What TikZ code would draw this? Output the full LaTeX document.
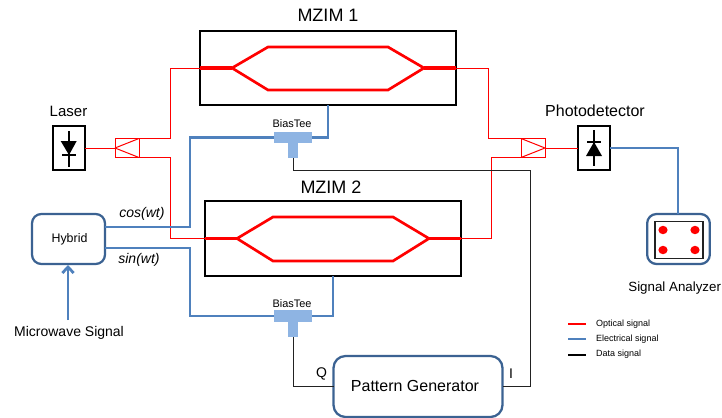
\documentclass[tikz,border=0pt]{standalone}
\usepackage{fontspec}
\setmainfont{Liberation Sans}
\usetikzlibrary{arrows.meta}
\definecolor{optred}{HTML}{FF0000}
\definecolor{eblue}{HTML}{4F81BD}
\definecolor{dblue}{HTML}{3B6292}
\definecolor{teeblue}{HTML}{8EB4E3}
\definecolor{datagray}{HTML}{222222}
\tikzset{
  x=0.75pt,y=-0.75pt,
  boxnode/.style={rectangle,inner sep=0pt,outer sep=0pt},
  mzimbox/.style={boxnode,draw=black,line width=1.6pt,minimum width=192pt,minimum height=56pt},
  diodebox/.style={boxnode,draw=black,fill=white,line width=1.5pt,minimum width=24pt,minimum height=33.5pt},
  roundblue/.style={boxnode,draw=dblue,line width=1.7pt,rounded corners=7pt},
  splitbox/.style={boxnode,draw=optred,line width=0.6pt,minimum width=18pt,minimum height=14.25pt},
  teebar/.style={boxnode,fill=teeblue,minimum width=28.5pt,minimum height=8.5pt},
  teestem/.style={boxnode,fill=teeblue,minimum width=7.5pt,minimum height=11.5pt},
  optthin/.style={draw=optred,line width=0.75pt},
  optarm/.style={draw=optred,line width=2pt,line join=miter},
  optstem/.style={draw=optred,line width=2.6pt},
  elec/.style={draw=eblue,line width=2.1pt},
  datal/.style={draw=datagray,line width=0.75pt},
  txt/.style={inner sep=0pt,outer sep=0pt,text=black,anchor=center},
  solidk/.style={draw=black,line width=1.5pt}
}
\begin{document}
\begin{tikzpicture}
\useasboundingbox (0,0) rectangle (722,418);
\clip (0,0) rectangle (722,418);

% boxes
\node[mzimbox] (mz1) at (328,68) {};
\node[mzimbox] (mz2) at (333,238.5) {};
\node[diodebox] (laser) at (68.7,148) {};
\node[diodebox] (pd) at (594,148) {};
\node[splitbox] (sp1) at (127,148) {};
\node[splitbox] (sp2) at (533,148) {};
\node[roundblue,minimum width=54.75pt,minimum height=37.5pt] (hy) at (68.5,239) {};
\node[roundblue,minimum width=47pt,minimum height=37.5pt] (sa) at (678.5,239) {};
\node[roundblue,rounded corners=9pt,minimum width=126.75pt,minimum height=45.75pt] (pg) at (418,386.5) {};
\node[boxnode,draw=datagray,line width=0.8pt,minimum width=36pt,minimum height=27.5pt] (sai) at (679,240) {};

% routing points
\coordinate (ra) at (170.5,100);
\coordinate (rb) at (170.5,200);
\coordinate (rc) at (488.5,100);
\coordinate (rd) at (491.5,200);
\coordinate (hc) at (105,227);
\coordinate (hs) at (105,248);
\coordinate (va) at (190,180);
\coordinate (vb) at (190,280);
\coordinate (dt) at (530.5,170.5);
\coordinate (mwin) at (68,320);
\coordinate (hyb) at (68,265);
\coordinate (sat) at (678,214);

% optical
\draw[optthin] (laser.east) -- (sp1.west);
\draw[optthin] (sp1.west) -- (sp1.north east);
\draw[optthin] (sp1.west) -- (sp1.south east);
\draw[optthin] (sp2.north west) -- (sp2.east) -- (sp2.south west);
\draw[optthin] (sp2.east) -- (pd.west);
\draw[optthin] (sp1.north east) -| (ra) |- (mz1.west);
\draw[optthin] (sp1.south east) -| (rb) |- (mz2.west);
\draw[optthin] (sp2.north west) -| (rc) |- (mz1.east);
\draw[optthin] (sp2.south west) -| (rd) |- (mz2.east);

% MZIM 1 arms
\coordinate (m1l) at (232,68);
\coordinate (m1r) at (424,68);
\draw[optstem] (mz1.west) -- (m1l);
\draw[optstem] (m1r) -- (mz1.east);
\draw[optarm] (m1l) -- (268,47) -- (388,47) -- (m1r) -- (388,90) -- (268,90) -- cycle;
% MZIM 2 arms
\coordinate (m2l) at (237,238.5);
\coordinate (m2r) at (429,238.5);
\draw[optstem] (mz2.west) -- (m2l);
\draw[optstem] (m2r) -- (mz2.east);
\draw[optarm] (m2l) -- (273,217) -- (393,217) -- (m2r) -- (393,261) -- (273,261) -- cycle;

% bias tees sit on the electrical lines
\node[teebar] (bt1) at (293,137.5) {};
\node[teestem] (bt1s) at (293,150.5) {};
\node[teebar] (bt2) at (293,316) {};
\node[teestem] (bt2s) at (293,329.5) {};

% electrical
\draw[elec] (hc) -| (va) |- (bt1.west);
\draw[elec] (bt1.east) -| (mz1.south);
\draw[elec] (hs) -| (vb) |- (bt2.west);
\draw[elec] (bt2.east) -| (mz2.south);
\draw[elec] (pd.east) -| (sat);
\draw[elec,-{Straight Barb[length=4.5pt,width=8.5pt]}] (mwin) -- (hyb);

% data
\draw[datal] (bt1s.south) |- (dt) |- (pg.east);
\draw[datal] (bt2s.south) |- (pg.west);

% laser diode
\draw[solidk] (69,131) -- (69,167);
\draw[solidk] (62,154.5) -- (76,154.5);
\fill[black] (60.7,141) -- (76.7,141) -- (69,155) -- cycle;
% photodiode
\draw[solidk] (594,130) -- (594,166);
\draw[solidk] (587,141.7) -- (601,141.7);
\fill[black] (586,156) -- (602,156) -- (594,142) -- cycle;

% analyzer dots
\foreach \dx/\dy in {663/230,695/230,663/250,695/250}
  \fill[optred] (\dx,\dy) ellipse[x radius=4.6,y radius=4.2];

% labels
\node[txt,font=\fontsize{13.5pt}{15pt}\selectfont] (t1) at (328,15) {MZIM 1};
\node[txt,font=\fontsize{13.5pt}{15pt}\selectfont] (t2) at (331,187) {MZIM 2};
\node[txt,font=\fontsize{11.25pt}{13pt}\selectfont] (t3) at (68.5,111) {Laser};
\node[txt,font=\fontsize{12pt}{14pt}\selectfont] (t4) at (595,111) {Photodetector};
\node[txt,font=\fontsize{9.3pt}{11pt}\selectfont] (t5) at (69.5,239) {Hybrid};
\node[txt,font=\fontsize{10.5pt}{12pt}\selectfont\itshape] (t6) at (142,214) {cos(wt)};
\node[txt,font=\fontsize{10.5pt}{12pt}\selectfont\itshape] (t7) at (139,260) {sin(wt)};
\node[txt,font=\fontsize{10.5pt}{12pt}\selectfont] (t8) at (69,333) {Microwave Signal};
\node[txt,font=\fontsize{8.2pt}{10pt}\selectfont] (t9) at (292,124) {BiasTee};
\node[txt,font=\fontsize{8.2pt}{10pt}\selectfont] (t10) at (292,304) {BiasTee};
\node[txt,font=\fontsize{12pt}{14pt}\selectfont] (t11) at (415,386) {Pattern Generator};
\node[txt,font=\fontsize{10.5pt}{12pt}\selectfont] (t12) at (321.5,374) {Q};
\node[txt,font=\fontsize{10.5pt}{12pt}\selectfont] (t13) at (511,374) {I};
\node[txt,anchor=east,font=\fontsize{10pt}{12pt}\selectfont] (t14) at (721,288) {Signal Analyzer};

% legend
\coordinate (la) at (568,324); \coordinate (lb) at (586,324);
\coordinate (lc) at (568,339); \coordinate (ld) at (586,339);
\coordinate (le) at (568,355); \coordinate (lf) at (586,355);
\draw[draw=optred,line width=1.4pt] (la) -- (lb);
\draw[draw=eblue,line width=1.4pt] (lc) -- (ld);
\draw[draw=black,line width=1.4pt] (le) -- (lf);
\node[txt,anchor=west,font=\fontsize{6.75pt}{8pt}\selectfont] (l1) at (596,324.5) {Optical signal};
\node[txt,anchor=west,font=\fontsize{6.75pt}{8pt}\selectfont] (l2) at (596,339) {Electrical signal};
\node[txt,anchor=west,font=\fontsize{6.75pt}{8pt}\selectfont] (l3) at (596,354.5) {Data signal};
\end{tikzpicture}
\end{document}
